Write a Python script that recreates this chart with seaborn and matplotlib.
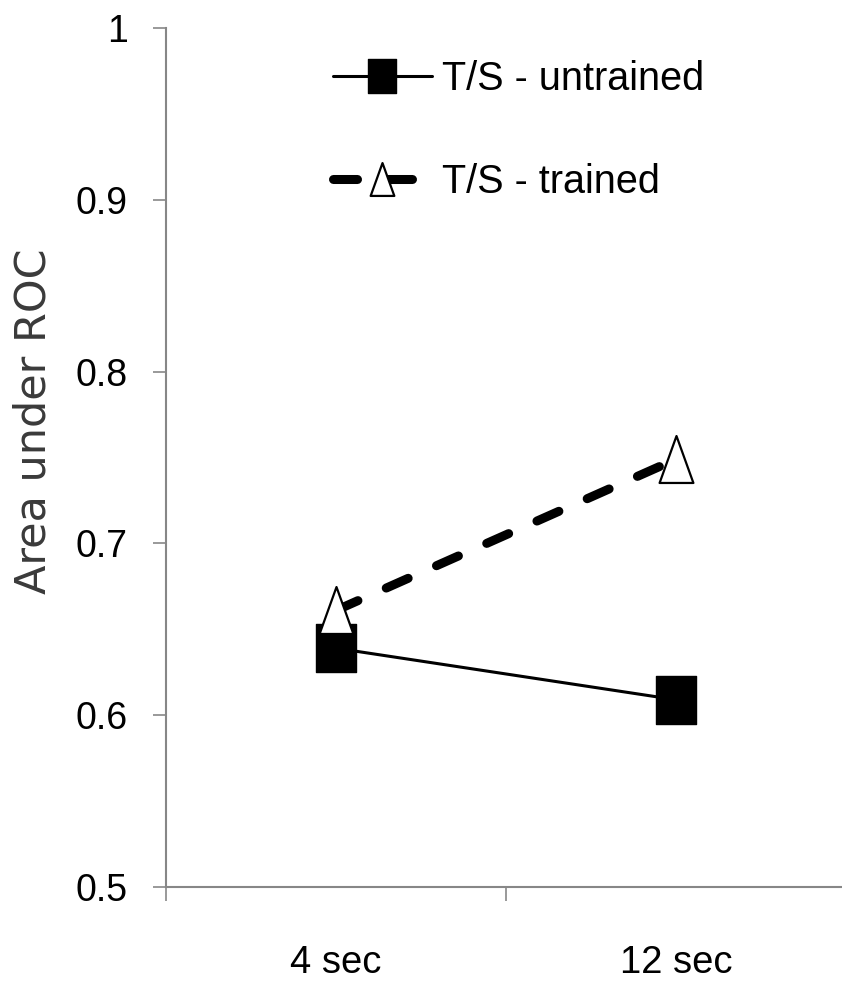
import numpy as np
import pandas as pd
import matplotlib.pyplot as plt
import seaborn as sns
from matplotlib.path import Path
from matplotlib.ticker import FuncFormatter

sns.set_theme(style="white")
plt.rcParams["font.family"] = ["Liberation Sans", "DejaVu Sans"]
plt.rcParams["text.color"] = "black"

# data
conditions = ["4 sec", "12 sec"]
untrained = [0.639, 0.609]
trained = [0.661, 0.749]

df = pd.DataFrame({
    "condition": conditions,
    "pos": np.arange(len(conditions)),
    "untrained": untrained,
    "trained": trained,
})

# markers are a bit taller than wide in the original
square_mk = Path([(-0.41, -0.5), (0.41, -0.5), (0.41, 0.5), (-0.41, 0.5), (-0.41, -0.5)], closed=True)
tri_mk = Path([(-0.36, -0.5), (0.36, -0.5), (0, 0.5), (-0.36, -0.5)], closed=True)

fig = plt.figure(figsize=(8.42, 9.84), dpi=100)
ax = fig.add_axes([166 / 842, 97 / 984, 680 / 842, 859 / 984])

sns.lineplot(data=df, x="pos", y="untrained", ax=ax, color="black", linewidth=2.2,
             marker=square_mk, markersize=34.6, markerfacecolor="black",
             markeredgecolor="black", markeredgewidth=1, label="T/S - untrained")
sns.lineplot(data=df, x="pos", y="trained", ax=ax, color="black", linewidth=6.5,
             linestyle=(0, (2.66, 3.43)), dash_capstyle="round",
             marker=tri_mk, markersize=33.8, markerfacecolor="white",
             markeredgecolor="black", markeredgewidth=1.6, label="T/S - trained")

ax.set_xlim(-0.5, 1.5)
ax.set_ylim(0.5, 1.0)
ax.set_xticks(df["pos"], conditions)
ax.set_xticks([-0.5, 0.5, 1.5], minor=True)
ax.set_yticks([0.5, 0.6, 0.7, 0.8, 0.9, 1.0])
ax.yaxis.set_major_formatter(FuncFormatter(lambda v, _: f"{v:g}"))

ax.set_xlabel("")
ax.set_ylabel("Area under ROC", fontsize=31, color="#3a3a3a", family="DejaVu Sans")
ax.yaxis.set_label_coords(-0.164, 0.5425)

grey = "#878787"
for side in ["top", "right"]:
    ax.spines[side].set_visible(False)
for side in ["left", "bottom"]:
    ax.spines[side].set_color(grey)
    ax.spines[side].set_linewidth(1.5)

ax.tick_params(axis="y", which="major", direction="out", length=9.4, width=1.2,
               color=grey, pad=18, labelsize=27, labelcolor="black", left=True)
ax.tick_params(axis="x", which="major", length=0, pad=42, labelsize=27.5, labelcolor="black")
ax.tick_params(axis="x", which="minor", direction="out", length=10, width=1.2,
               color=grey, bottom=True)

ax.legend(loc="upper left", bbox_to_anchor=(333 / 842, (984 - 60) / 984),
          bbox_transform=fig.transFigure, frameon=False, fontsize=28.5,
          borderpad=0, borderaxespad=0, handlelength=2.5, handletextpad=0.25,
          labelspacing=1.65, markerscale=0.7)

plt.savefig("out.png", dpi=100)
